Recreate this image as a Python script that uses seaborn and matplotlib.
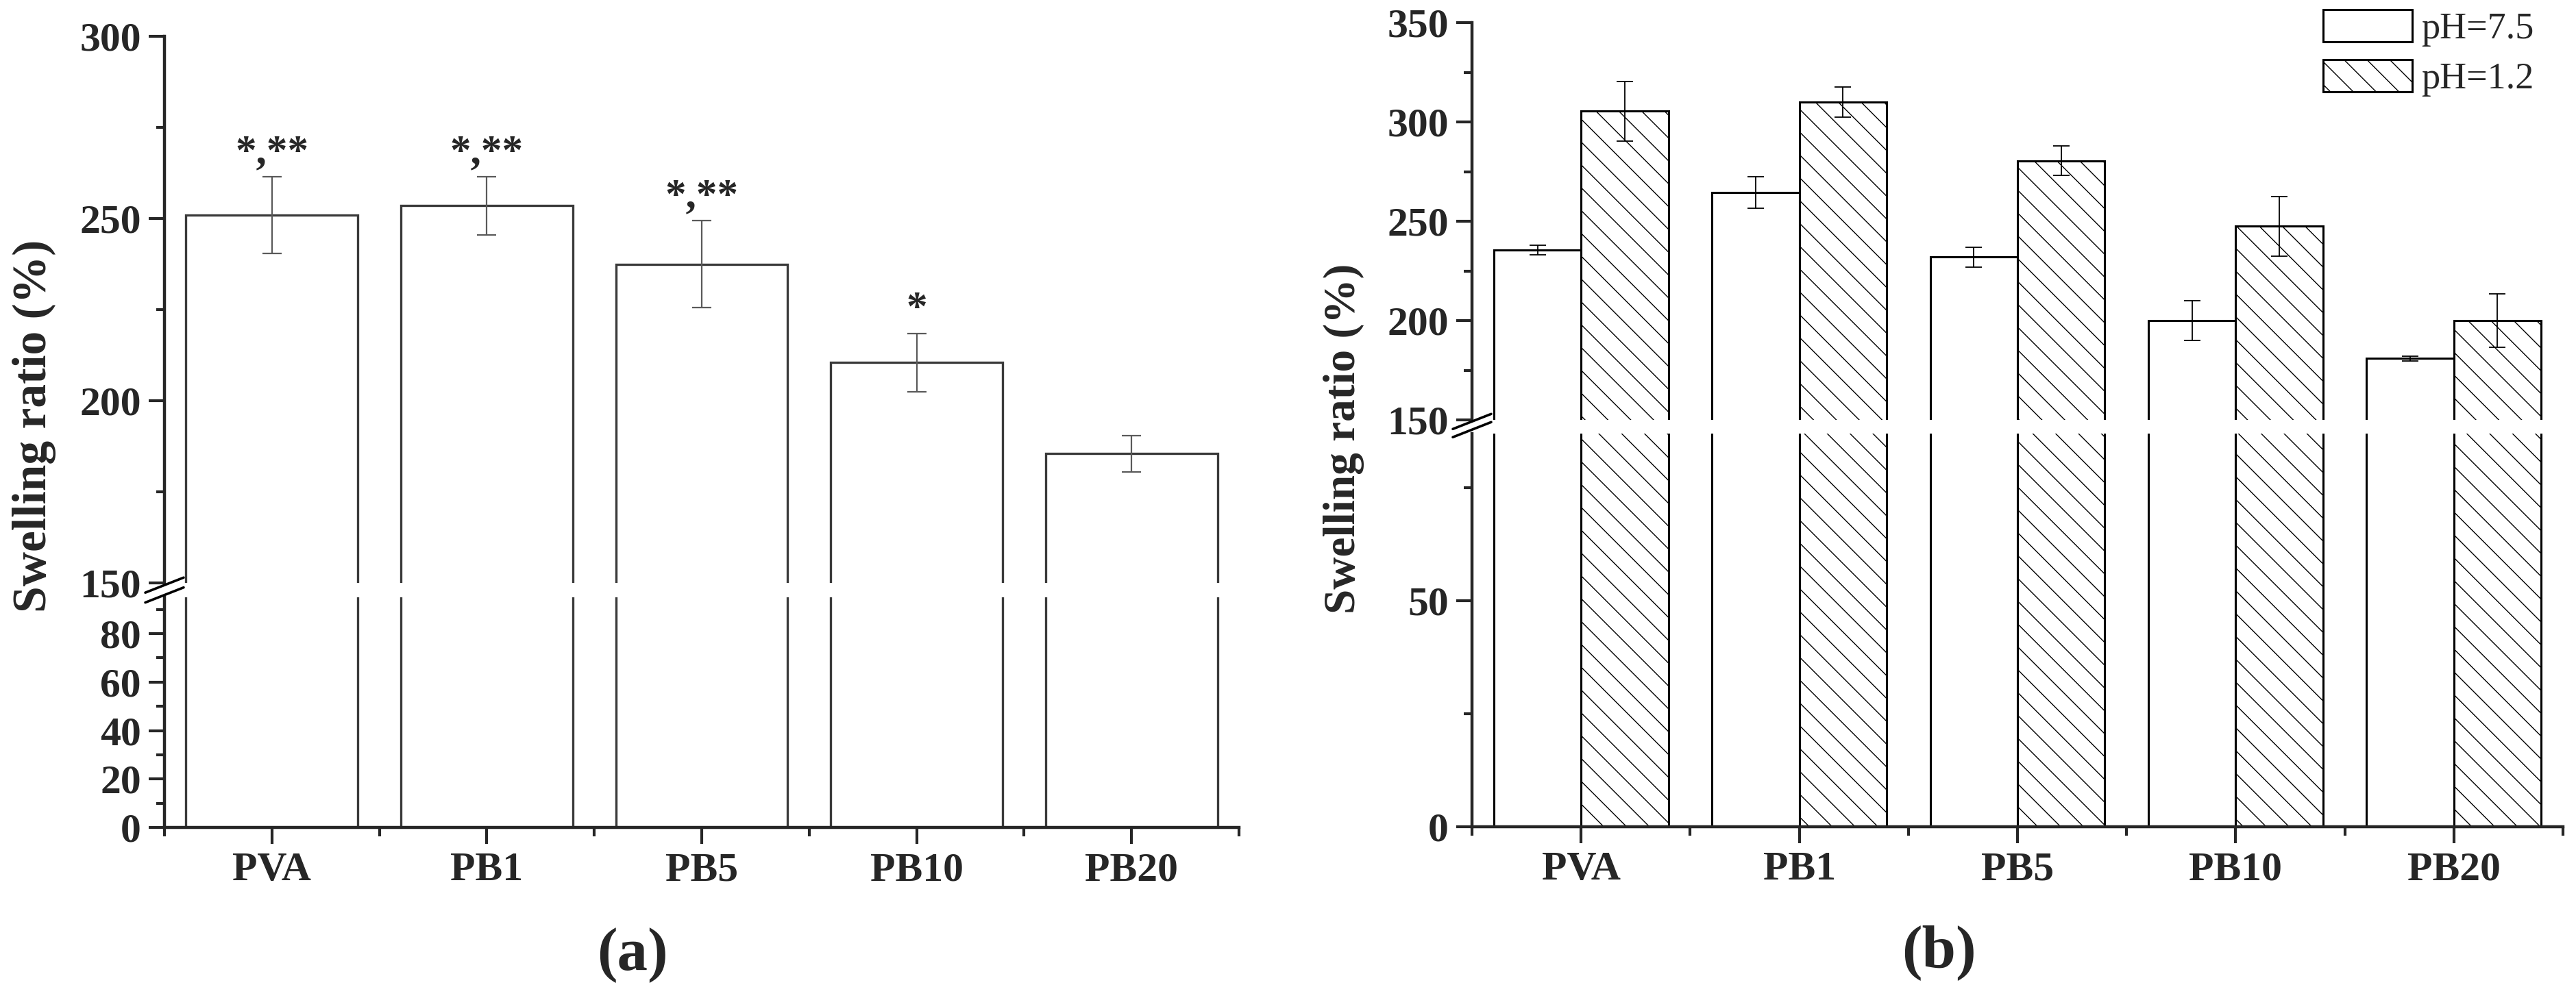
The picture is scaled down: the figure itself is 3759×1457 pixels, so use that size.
import numpy as np
import pandas as pd
import matplotlib
matplotlib.use("Agg")
import matplotlib.pyplot as plt
from matplotlib.patches import Patch
import seaborn as sns

# data
samples = ["PVA", "PB1", "PB5", "PB10", "PB20"]

ratio_a = [251.0, 253.5, 237.5, 210.5, 185.5]
err_a = [10.5, 8.0, 12.0, 8.0, 5.0]
stars_a = ["*,**", "*,**", "*,**", "*", ""]

ph_levels = ["pH=7.5", "pH=1.2"]
ratio_ph75 = [235.5, 264.5, 232.0, 200.0, 181.0]
err_ph75 = [2.5, 8.0, 5.0, 10.0, 1.2]
ratio_ph12 = [305.5, 310.0, 280.5, 247.5, 200.0]
err_ph12 = [15.0, 7.5, 7.5, 15.0, 13.5]

sns.set_style("ticks")
plt.rcParams["font.family"] = ["Liberation Serif", "DejaVu Serif"]
plt.rcParams["hatch.linewidth"] = 1.0

W, H = 3759, 1457
fig = plt.figure(figsize=(W / 100, H / 100), dpi=100)


def frac(x0, x1, ytop, ybot):
    return [x0 / W, 1 - ybot / H, (x1 - x0) / W, (ybot - ytop) / H]


def style_axes(ax_top, ax_bot, tick_fs=43):
    for ax in (ax_top, ax_bot):
        ax.set_xlim(-0.5, 4.5)
        ax.set_xlabel("")
        ax.set_ylabel("")
        ax.spines["right"].set_visible(False)
        ax.spines["top"].set_visible(False)
        ax.spines["left"].set_linewidth(3.2)
        ax.spines["bottom"].set_linewidth(3.2)
        ax.tick_params(axis="y", which="major", length=16.5, width=3.0, direction="out", pad=8)
        ax.tick_params(axis="y", which="minor", length=8.5, width=3.0, direction="out")
        for lab in ax.get_yticklabels():
            lab.set_fontsize(tick_fs)
            lab.set_fontweight("bold")
    ax_top.spines["bottom"].set_visible(False)
    ax_top.tick_params(axis="x", which="both", bottom=False, labelbottom=False)
    ax_bot.set_xticks(range(len(samples)))
    ax_bot.set_xticklabels(samples, fontsize=tick_fs, fontweight="bold")
    ax_bot.set_xticks(np.arange(-0.5, 5.0, 1.0), minor=True)
    ax_bot.tick_params(axis="x", which="major", length=17, width=3.0, pad=9)
    ax_bot.tick_params(axis="x", which="minor", length=9, width=3.0)


def break_marks(ax_top, ax_bot):
    for ax, ycen in ((ax_top, -0.004), (ax_bot, 1.01)):
        bb = ax.get_position()
        dx = 28 / (bb.width * W)
        dy = 11 / (bb.height * H)
        ax.plot([-dx, dx], [ycen - dy, ycen + dy], transform=ax.transAxes,
                color="black", lw=2.6, clip_on=False, zorder=5)


# ---------------- panel (a) ----------------
df_a = pd.DataFrame({"sample": samples, "ratio": ratio_a})
axa_top = fig.add_axes(frac(240, 1808, 53, 851))
axa_bot = fig.add_axes(frac(240, 1808, 872, 1208))
for ax in (axa_top, axa_bot):
    sns.barplot(data=df_a, x="sample", y="ratio", color="white", saturation=1,
                edgecolor="#3a3a3a", linewidth=2.4, width=0.8, errorbar=None, ax=ax)
axa_top.set_ylim(150, 300)
axa_bot.set_ylim(0, 95)
axa_top.set_yticks([150, 200, 250, 300])
axa_top.set_yticks([175, 225, 275], minor=True)
axa_bot.set_yticks([0, 20, 40, 60, 80])
axa_bot.set_yticks([10, 30, 50, 70, 90], minor=True)

bars = axa_top.containers[0]
xs = [b.get_x() + b.get_width() / 2 for b in bars]
axa_top.errorbar(xs, ratio_a, yerr=err_a, fmt="none", ecolor="#5a5a5a",
                 elinewidth=1.6, capsize=10, capthick=1.6, zorder=3)
for x, v, e, s in zip(xs, ratio_a, err_a, stars_a):
    if s:
        axa_top.text(x, v + e + 6.5, s, ha="center", va="center",
                     fontsize=44, fontweight="bold")
style_axes(axa_top, axa_bot)
break_marks(axa_top, axa_bot)

# ---------------- panel (b) ----------------
df_b = pd.DataFrame({
    "sample": samples * 2,
    "pH": [ph_levels[0]] * len(samples) + [ph_levels[1]] * len(samples),
    "ratio": ratio_ph75 + ratio_ph12,
})
axb_top = fig.add_axes(frac(2148, 3740, 33, 613))
axb_bot = fig.add_axes(frac(2148, 3740, 633, 1207))
for ax in (axb_top, axb_bot):
    sns.barplot(data=df_b, x="sample", y="ratio", hue="pH", hue_order=ph_levels,
                palette=["white", "white"], saturation=1, edgecolor="black",
                linewidth=2.2, width=0.8, errorbar=None, legend=False, ax=ax)
    for b in ax.containers[1]:
        b.set_hatch("\\")
axb_top.set_ylim(150, 350)
axb_bot.set_ylim(0, 87)
axb_top.set_yticks([150, 200, 250, 300, 350])
axb_top.set_yticks([175, 225, 275, 325], minor=True)
axb_bot.set_yticks([0, 50])
axb_bot.set_yticks([25, 75], minor=True)

for cont, vals, errs in zip(axb_top.containers, [ratio_ph75, ratio_ph12], [err_ph75, err_ph12]):
    xs = [b.get_x() + b.get_width() / 2 for b in cont]
    axb_top.errorbar(xs, vals, yerr=errs, fmt="none", ecolor="black",
                     elinewidth=1.3, capsize=8.3, capthick=1.3, zorder=3)
style_axes(axb_top, axb_bot)
break_marks(axb_top, axb_bot)

handles = [Patch(facecolor="white", edgecolor="black", lw=2.2, label=ph_levels[0]),
           Patch(facecolor="white", edgecolor="black", lw=2.2, hatch="\\", label=ph_levels[1])]
fig.legend(handles=handles, loc="upper left", bbox_to_anchor=(3390 / W, 1 - 14 / H),
           frameon=False, prop={"family": "Liberation Serif", "size": 39},
           handlelength=2.4, handleheight=0.95, handletextpad=0.25, labelspacing=0.35,
           borderpad=0, borderaxespad=0)

# axis titles and panel letters
fig.text(50 / W, 1 - 622 / H, "Swelling ratio (%)", rotation=90, ha="center", va="center",
         fontsize=50, fontweight="bold")
fig.text(1961 / W, 1 - 640 / H, "Swelling ratio (%)", rotation=90, ha="center", va="center",
         fontsize=47, fontweight="bold")
fig.text(923 / W, 1 - 1395 / H, "(a)", ha="center", va="center", fontsize=64, fontweight="bold")
fig.text(2829 / W, 1 - 1391 / H, "(b)", ha="center", va="center", fontsize=64, fontweight="bold")

fig.savefig("out.png", dpi=100, facecolor="white")
